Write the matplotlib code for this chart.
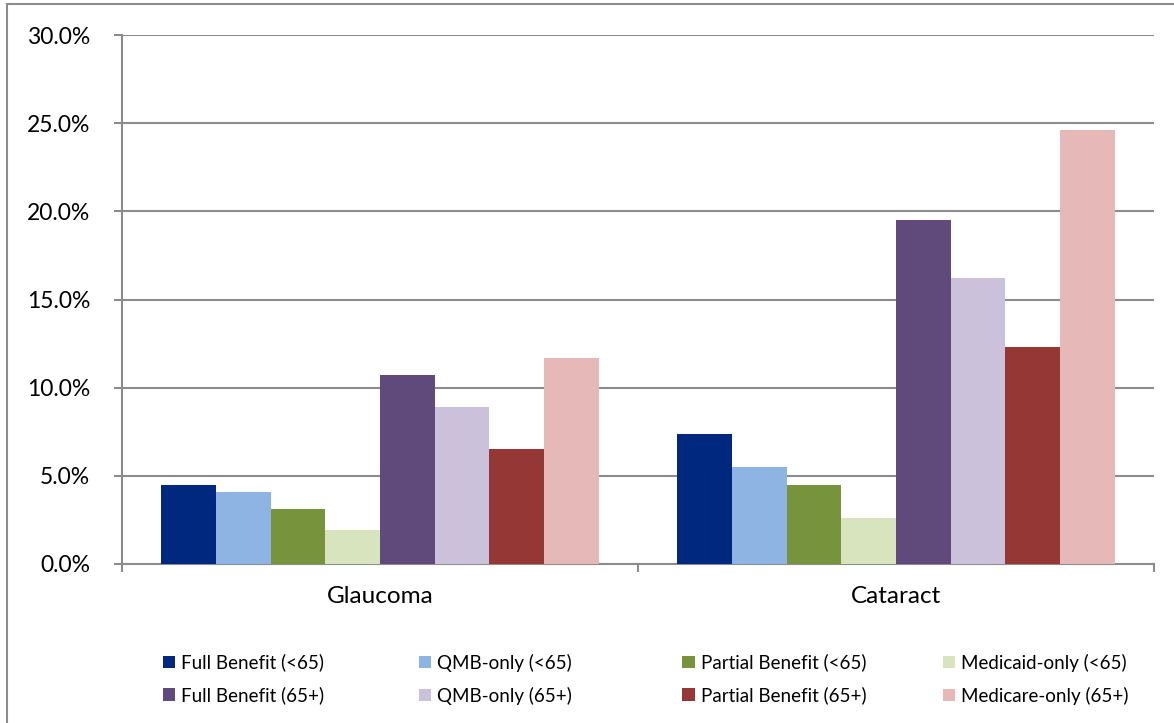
import numpy as np
import matplotlib.pyplot as plt
from matplotlib.patches import Rectangle

plt.rcParams['font.family'] = ['Lato', 'DejaVu Sans']

categories = ['Glaucoma', 'Cataract']
series = ['Full Benefit (<65)', 'QMB-only (<65)', 'Partial Benefit (<65)', 'Medicaid-only (<65)',
          'Full Benefit (65+)', 'QMB-only (65+)', 'Partial Benefit (65+)', 'Medicare-only (65+)']
# percent of beneficiaries, one list per series: [Glaucoma, Cataract]
full_u65 = [4.5, 7.4]
qmb_u65 = [4.1, 5.5]
partial_u65 = [3.1, 4.5]
medicaid_u65 = [1.9, 2.6]
full_65 = [10.7, 19.5]
qmb_65 = [8.9, 16.2]
partial_65 = [6.5, 12.3]
medicare_65 = [11.7, 24.6]
values = [full_u65, qmb_u65, partial_u65, medicaid_u65, full_65, qmb_65, partial_65, medicare_65]
colors = ['#00287F', '#8EB4E3', '#77933C', '#D8E4BD', '#604A7B', '#CCC1DA', '#953735', '#E6B9B8']

fig = plt.figure(figsize=(11.74, 7.23), dpi=100)
ax = fig.add_axes([122/1174, 1 - 564/723, (1154-122)/1174, (564-35)/723])

# outer chart frame
fig.patches.append(Rectangle((7/1174, -0.01), 1.2, 1 - 4/723 + 0.01, transform=fig.transFigure,
                             fill=False, edgecolor='#8c8c8c', linewidth=1.5))

x = np.arange(len(categories))
w = 0.106
bars = []
for i, (vals, c) in enumerate(zip(values, colors)):
    bars.append(ax.bar(x + (i - 3.5) * w, vals, w, color=c, label=series[i], zorder=3))

ax.set_xlim(-0.5, 1.5)
ax.set_ylim(0, 30)
ax.set_yticks(np.arange(0, 31, 5))
ax.set_yticklabels([f'{v:.1f}%' for v in np.arange(0, 31, 5)], fontsize=16.5)
ax.set_xticks([-0.5, 0.5, 1.5])
ax.set_xticklabels([])
ax.set_xticks(x, minor=True)
ax.set_xticklabels(categories, minor=True, fontsize=17.5)
ax.tick_params(axis='x', which='minor', length=0, pad=16)
ax.tick_params(axis='x', which='major', length=6, width=1.5, color='#8c8c8c')
ax.tick_params(axis='y', length=6, width=1.5, color='#8c8c8c', pad=17)
ax.grid(axis='y', color='#8c8c8c', linewidth=1.5, zorder=0)
for s in ['top', 'right']:
    ax.spines[s].set_visible(False)
for s in ['left', 'bottom']:
    ax.spines[s].set_color('#8c8c8c')
    ax.spines[s].set_linewidth(1.5)

# legend: one small legend per column, <65 on top row and 65+ below
col_x = [155, 411, 675, 935]
for k in range(4):
    leg = fig.legend([bars[k], bars[k + 4]], [series[k], series[k + 4]],
                     loc='upper left', bbox_to_anchor=(col_x[k]/1174, 1 - 646/723),
                     frameon=False, fontsize=13.5, handlelength=0.65, handleheight=0.65,
                     handletextpad=0.35, labelspacing=0.8, borderaxespad=0)

fig.savefig('out.png', dpi=100)
